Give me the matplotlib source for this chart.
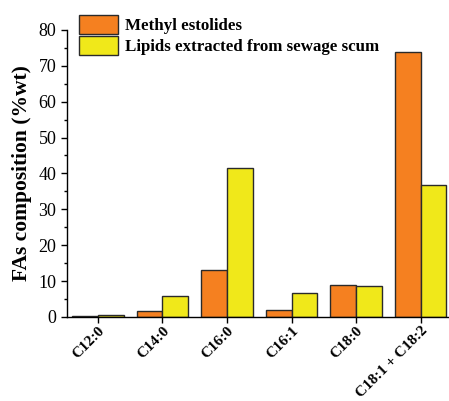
import matplotlib
matplotlib.use("Agg")
import matplotlib.pyplot as plt
import numpy as np
from matplotlib.ticker import MultipleLocator

categories = ["C12:0", "C14:0", "C16:0", "C16:1", "C18:0", "C18:1 + C18:2"]
methyl_estolides = [0.3, 1.6, 13.2, 1.9, 8.9, 73.8]
lipids_scum = [0.5, 5.8, 41.6, 6.6, 8.6, 36.7]

plt.rcParams["font.family"] = ["Liberation Serif", "DejaVu Serif"]

fig = plt.figure(figsize=(4.49, 4.01), dpi=100)
ax = fig.add_axes([0.149, 0.2095, 0.851, 0.716])

x = np.arange(len(categories))
w = 0.4
ax.bar(x - w / 2, methyl_estolides, width=w, color="#F58020", edgecolor="#2a2a2a",
       linewidth=1.0, label="Methyl estolides")
ax.bar(x + w / 2, lipids_scum, width=w, color="#F0E81A", edgecolor="#2a2a2a",
       linewidth=1.0, label="Lipids extracted from sewage scum")

ax.set_xlim(-0.48, 5.44)
ax.set_ylim(0, 80)
ax.yaxis.set_major_locator(MultipleLocator(10))
ax.yaxis.set_minor_locator(MultipleLocator(5))
ax.set_xticks(x)
ax.set_xticklabels(categories, rotation=45, ha="right", rotation_mode="anchor",
                   fontsize=11, fontweight="bold")
ax.tick_params(axis="y", labelsize=13, direction="out", length=4, width=1)
ax.tick_params(axis="y", which="minor", length=2.5, width=1)
ax.tick_params(axis="x", direction="out", length=4, width=1, pad=1)
for s in ["top", "right"]:
    ax.spines[s].set_visible(False)
for s in ["left", "bottom"]:
    ax.spines[s].set_linewidth(1.0)
ax.set_ylabel("FAs composition (%wt)", fontsize=15.5, fontweight="bold", labelpad=5)

ax.legend(loc="upper left", bbox_to_anchor=(0.015, 1.075), frameon=False,
          prop={"weight": "bold", "size": 12.2}, handlelength=2.3, handleheight=1.35,
          handletextpad=0.4, labelspacing=0.1, borderaxespad=0)

fig.savefig("out.png", dpi=100)
